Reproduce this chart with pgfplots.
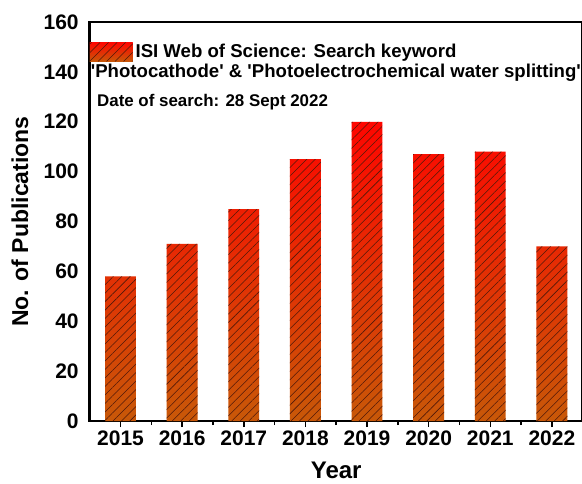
\documentclass[border=0pt]{standalone}
\usepackage{pgfplots}
\pgfplotsset{compat=1.18}
\usepackage{fontspec}
\setmainfont{Liberation Sans}
\usetikzlibrary{patterns.meta}
\definecolor{topred}{RGB}{255,6,0}
\definecolor{botorg}{RGB}{200,88,8}
\definecolor{hatchcol}{RGB}{80,25,10}
\tikzset{shadebar/.style={top color=topred, bottom color=botorg, draw=none},
  hatchonly/.style={draw=none, pattern={Lines[angle=45,distance=6pt,line width=0.55pt]}, pattern color=hatchcol}}
\begin{document}
\begin{tikzpicture}
\begin{axis}[
  scale only axis, width=493pt, height=399pt,
  xmin=-0.5, xmax=7.5, ymin=0, ymax=160,
  xtick={0,1,2,3,4,5,6,7},
  xticklabels={2015,2016,2017,2018,2019,2020,2021,2022},
  minor xtick={0.5,1.5,2.5,3.5,4.5,5.5,6.5},
  ytick={0,20,40,60,80,100,120,140,160},
  xtick pos=bottom, ytick pos=left,
  tick align=outside, major tick length=6pt, minor tick length=4pt,
  ytick style={draw=none},
  xtick style={line width=1.5pt, black},
  axis line style={line width=2.5pt},
  tick label style={font=\fontsize{21}{21}\selectfont\bfseries},
  yticklabel style={xshift=-1.5pt},
  /pgf/number format/assume math mode=true,
  xlabel={Year}, ylabel={No. of Publications},
  xlabel style={font=\fontsize{24}{24}\selectfont\bfseries,
    at={(axis description cs:0.5,0)}, anchor=base, yshift=-57pt},
  ylabel style={font=\fontsize{23}{23}\selectfont\bfseries,
    at={(axis description cs:-0.1414,0.5)}, anchor=center},
  legend style={at={(rel axis cs:0,0.925)}, anchor=west, draw=none, fill=none,
    font=\fontsize{18.6}{18.6}\selectfont\bfseries, inner sep=0pt,
    nodes={inner xsep=3pt}},
  legend cell align=left,
  legend image code/.code={\path[shadebar] (0.3pt,-9.5pt) rectangle (43pt,9.5pt);
    \begin{scope}
    \clip (0.3pt,-9.5pt) rectangle (43pt,9.5pt);
    \draw[hatchcol, line width=0.55pt]
      (-17pt,-9.5pt) -- ++(19pt,19pt) (-8.5pt,-9.5pt) -- ++(19pt,19pt)
      (0pt,-9.5pt) -- ++(19pt,19pt) (8.5pt,-9.5pt) -- ++(19pt,19pt)
      (17pt,-9.5pt) -- ++(19pt,19pt) (25.5pt,-9.5pt) -- ++(19pt,19pt)
      (34pt,-9.5pt) -- ++(19pt,19pt) (42.5pt,-9.5pt) -- ++(19pt,19pt);
    \end{scope}},
]
\addplot[ybar, bar width=0.5, bar shift=0pt, shadebar] coordinates {
  (0,58) (1,71) (2,85) (3,105) (4,120) (5,107) (6,108) (7,70)};
\addlegendentry{ISI Web of Science: Search keyword}
\addplot[ybar, bar width=0.5, bar shift=0pt, hatchonly, forget plot] coordinates {
  (0,58) (1,71) (2,85) (3,105) (4,120) (5,107) (6,108) (7,70)};
\coordinate (L2) at (rel axis cs:0.002,0.862);
\coordinate (L3) at (rel axis cs:0.0148,0.787);
\coordinate (BBsw) at (rel axis cs:0,0);
\end{axis}
\node[anchor=base west, font=\fontsize{18.6}{18.6}\selectfont\bfseries, inner sep=0pt]
  at (L2)
  {\textquotesingle Photocathode\textquotesingle{} \& \textquotesingle Photoelectrochemical water splitting\textquotesingle};
\node[anchor=base west, font=\fontsize{16.9}{16.9}\selectfont\bfseries, inner sep=0pt]
  at (L3) {Date of search: 28 Sept 2022};
\pgfresetboundingbox
\useasboundingbox ([shift={(-89.7pt,-62pt)}]BBsw) rectangle ([shift={(492.3pt,421pt)}]BBsw);
\end{tikzpicture}
\end{document}
